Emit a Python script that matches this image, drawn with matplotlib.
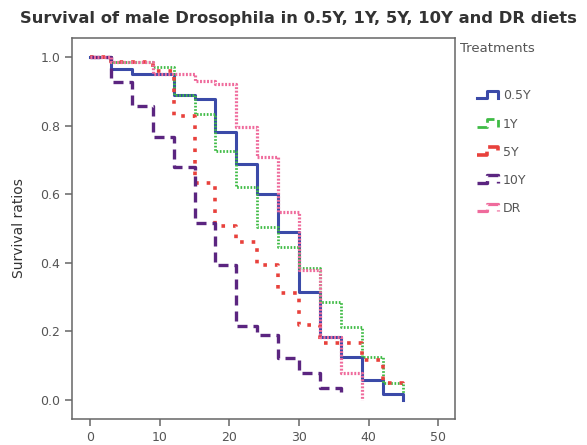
import numpy as np
import matplotlib
matplotlib.use('Agg')
import matplotlib.pyplot as plt
from matplotlib.lines import Line2D
from matplotlib.legend_handler import HandlerBase

# Data: survival ratio after each event time (days)
t_05y = [0, 3, 6, 12, 15, 18, 21, 24, 27, 30, 33, 36, 39, 42, 45]
s_05y = [1.0, 0.965, 0.95, 0.89, 0.877, 0.78, 0.687, 0.60, 0.49, 0.316, 0.185, 0.126, 0.058, 0.018, 0.0]

t_1y = [0, 3, 9, 12, 15, 18, 21, 24, 27, 30, 33, 36, 39, 42, 45]
s_1y = [1.0, 0.985, 0.97, 0.89, 0.833, 0.725, 0.62, 0.503, 0.447, 0.386, 0.287, 0.213, 0.126, 0.05, 0.02]

t_5y = [0, 3, 9, 12, 15, 18, 21, 24, 27, 30, 33, 39, 42, 45]
s_5y = [1.0, 0.985, 0.96, 0.827, 0.634, 0.506, 0.462, 0.395, 0.313, 0.219, 0.167, 0.117, 0.05, 0.03]

t_10y = [0, 3, 6, 9, 12, 15, 18, 21, 24, 27, 30, 33, 36]
s_10y = [1.0, 0.927, 0.857, 0.766, 0.68, 0.515, 0.395, 0.216, 0.19, 0.123, 0.079, 0.035, 0.005]

t_dr = [0, 3, 9, 15, 18, 21, 24, 27, 30, 33, 36, 39]
s_dr = [1.0, 0.985, 0.95, 0.93, 0.92, 0.795, 0.707, 0.547, 0.38, 0.185, 0.08, 0.0]

labels = ['0.5Y', '1Y', '5Y', '10Y', 'DR']
colors = ['#3b4aa8', '#3fbb45', '#e8413c', '#5b2580', '#ef6b9c']

series = [(t_05y, s_05y), (t_1y, s_1y), (t_5y, s_5y), (t_10y, s_10y), (t_dr, s_dr)]
styles = [
    dict(linestyle='-', linewidth=2.2),
    dict(linestyle=(0, (0.6, 0.6)), linewidth=2.0),
    dict(linestyle=(0, (1.0, 2.2)), linewidth=2.6),
    dict(linestyle=(0, (3.0, 1.8)), linewidth=2.4),
    dict(linestyle=(0, (0.6, 0.5)), linewidth=2.3),
]


class StepHandler(HandlerBase):
    # draws the little step glyph used in the legend
    def create_artists(self, legend, orig_handle, xdescent, ydescent,
                       width, height, fontsize, trans):
        x0 = -xdescent
        y0 = -ydescent
        xs = [x0, x0 + 0.4 * width, x0 + 0.4 * width, x0 + 0.85 * width, x0 + 0.85 * width]
        ys = [y0 + 0.1 * height, y0 + 0.1 * height, y0 + 1.0 * height, y0 + 1.0 * height, y0 + 0.1 * height]
        ln = Line2D(xs, ys, color=orig_handle.get_color(),
                    linestyle=orig_handle.get_linestyle(),
                    linewidth=orig_handle.get_linewidth())
        ln.set_transform(trans)
        return [ln]


fig = plt.figure(figsize=(5.87, 4.45), dpi=100)
ax = fig.add_axes([72 / 587, 1 - 419 / 445, (455 - 72) / 587, (419 - 38) / 445])

handles = []
for (t, s), c, st, lab in zip(series, colors, styles, labels):
    h, = ax.step(t, s, where='post', color=c, label=lab, **st)
    handles.append(h)

ax.set_xlim(-2.6, 52.4)
ax.set_ylim(-0.055, 1.055)
ax.set_xticks([0, 10, 20, 30, 40, 50])
ax.set_yticks([0.0, 0.2, 0.4, 0.6, 0.8, 1.0])
ax.set_yticklabels(['0.0', '0.2', '0.4', '0.6', '0.8', '1.0'])

for sp in ax.spines.values():
    sp.set_color('#666666')
    sp.set_linewidth(1.1)
ax.tick_params(colors='#666666', labelcolor='#555555', labelsize=9, length=5, width=1.1)

ax.set_ylabel('Survival ratios', fontsize=10, color='#333333', labelpad=10)

fig.suptitle('Survival of male Drosophila in 0.5Y, 1Y, 5Y, 10Y and DR diets',
             x=0.508, y=0.975, fontsize=11.8, fontweight='bold', color='#333333')

fig.text(460 / 587, 1 - 48 / 445, 'Treatments', fontsize=9.5, color='#555555', va='center')
leg = fig.legend(handles=handles, labels=labels, loc='upper left',
                 bbox_to_anchor=(466 / 587, 1 - 78 / 445), frameon=False,
                 fontsize=9, labelspacing=1.22, handlelength=2.0, handletextpad=0.05,
                 handler_map={Line2D: StepHandler()})
for txt in leg.get_texts():
    txt.set_color('#555555')

fig.savefig('out.png', dpi=100)
